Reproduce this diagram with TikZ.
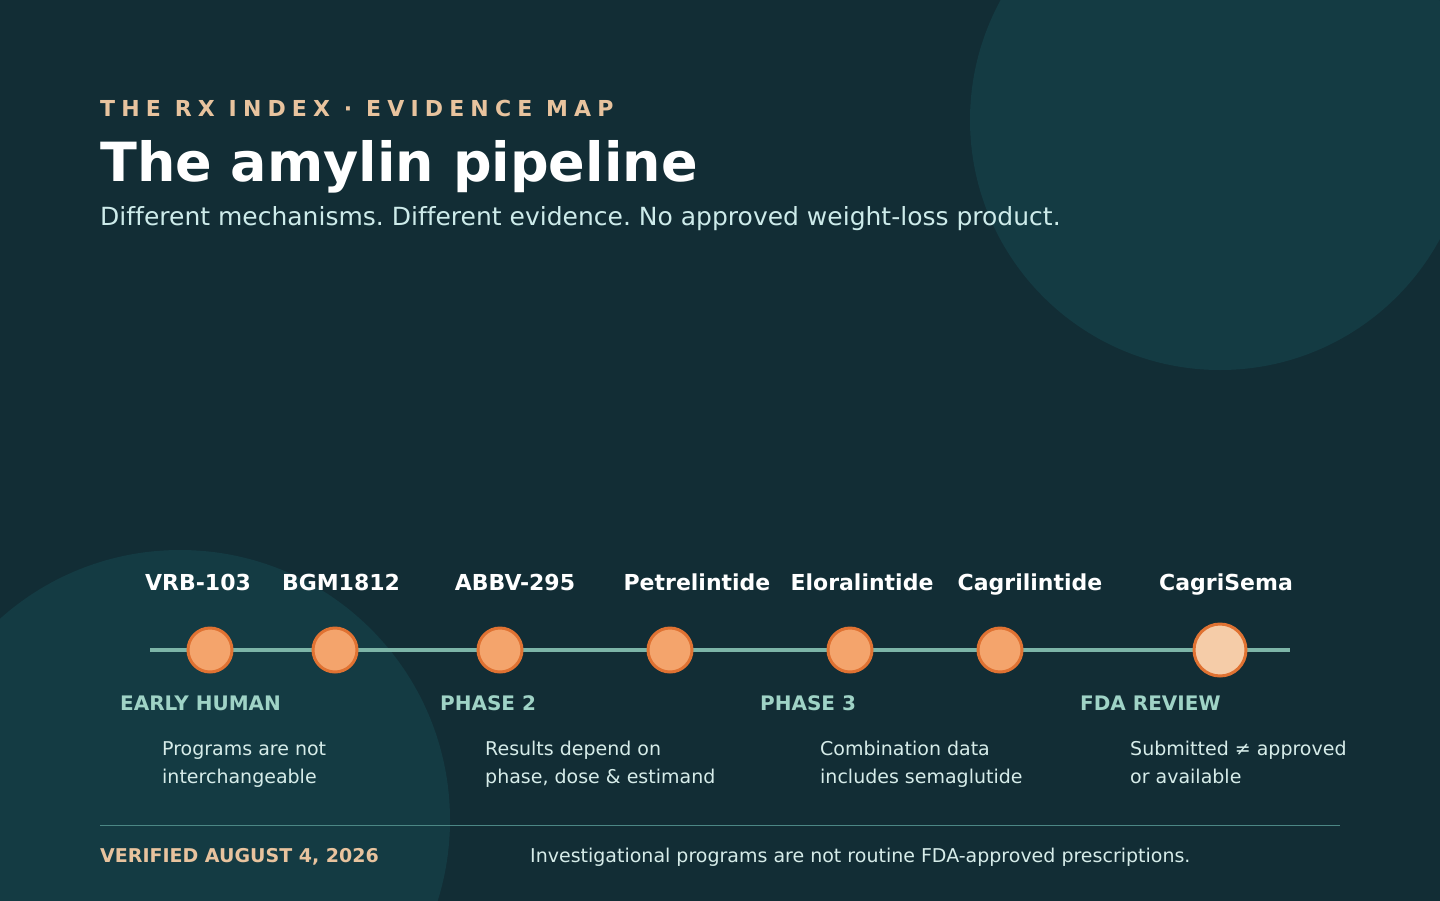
\documentclass[tikz,border=0pt]{standalone}
\usepackage{fontspec}
\setmainfont[Ligatures=NoCommon]{DejaVu Sans}
\newfontfamily\spacedfont[LetterSpace=28]{DejaVu Sans}
\frenchspacing
\definecolor{bg}{HTML}{122D35}
\definecolor{blob}{HTML}{143B43}
\definecolor{peach}{HTML}{E8C39E}
\definecolor{subt}{HTML}{CDEBEA}
\definecolor{tline}{HTML}{7DB5A8}
\definecolor{dotfill}{HTML}{F4A46C}
\definecolor{dotedge}{HTML}{E07232}
\definecolor{dotlight}{HTML}{F5CCA8}
\definecolor{stage}{HTML}{9FD3C6}
\definecolor{desc}{HTML}{D6ECE9}
\definecolor{divider}{HTML}{4C8785}
\tikzset{
  txt/.style={inner sep=0pt, anchor=base west},
  drug/.style={inner sep=0pt, anchor=base, text=white, font=\fontsize{22}{26}\selectfont\bfseries},
  stagelbl/.style={txt, text=stage, font=\fontsize{20}{24}\selectfont\bfseries},
  desctxt/.style={txt, text=desc, font=\fontsize{19}{28}\selectfont, align=left},
  dot/.style={circle, draw=dotedge, fill=dotfill, line width=3pt, minimum size=44pt, inner sep=0pt},
  bigdot/.style={dot, fill=dotlight, minimum size=52pt},
  tl/.style={draw=tline, line width=4pt},
}
\begin{document}
\begin{tikzpicture}[x=1pt,y=-1pt]
\useasboundingbox (0,0) rectangle (1440,900);
\begin{scope}
\clip (0,0) rectangle (1440,900);
\fill[bg] (-2,-2) rectangle (1442,902);
\fill[blob] (1220,120) circle (250);
\fill[blob] (180,820) circle (270);
\end{scope}

% header
\node[txt, text=peach, font=\spacedfont\fontsize{22}{26}\selectfont\bfseries] (kicker) at (100,116) {THE RX INDEX · EVIDENCE MAP};
\node[txt, text=white, font=\fontsize{54}{62}\selectfont\bfseries] (title) at (100,181) {The amylin pipeline};
\node[txt, text=subt, font=\fontsize{25}{30}\selectfont] (subtitle) at (100,225) {Different mechanisms. Different evidence. No approved weight-loss product.};

% timeline
\coordinate (tls) at (150,650);
\coordinate (tle) at (1290,650);
\draw[tl] (tls) -- (tle);
\node[dot] (d1) at (210,650) {};
\node[dot] (d2) at (335,650) {};
\node[dot] (d3) at (500,650) {};
\node[dot] (d4) at (670,650) {};
\node[dot] (d5) at (850,650) {};
\node[dot] (d6) at (1000,650) {};
\node[bigdot] (d7) at (1220,650) {};

% drug labels
\node[drug] (l1) at (198,590) {VRB-103};
\node[drug] (l2) at (341,590) {BGM1812};
\node[drug] (l3) at (515,590) {ABBV-295};
\node[drug] (l4) at (697,590) {Petrelintide};
\node[drug] (l5) at (862,590) {Eloralintide};
\node[drug] (l6) at (1030,590) {Cagrilintide};
\node[drug] (l7) at (1226,590) {CagriSema};

% stages
\node[stagelbl] (s1) at (120,710) {EARLY HUMAN};
\node[stagelbl] (s2) at (440,710) {PHASE 2};
\node[stagelbl] (s3) at (760,710) {PHASE 3};
\node[stagelbl] (s4) at (1080,710) {FDA REVIEW};

\node[desctxt, anchor=north west] (t1) at (162,741) {Programs are not\\interchangeable};
\node[desctxt, anchor=north west] (t2) at (485,741) {Results depend on\\phase, dose \& estimand};
\node[desctxt, anchor=north west] (t3) at (820,741) {Combination data\\includes semaglutide};
\node[desctxt, anchor=north west] (t4) at (1130,741) {Submitted ≠ approved\\or available};

% footer
\coordinate (dvl) at (100,825);
\coordinate (dvr) at (1340,825);
\draw[divider, line width=1pt] (dvl) -- (dvr);
\node[txt, text=peach, font=\fontsize{19}{23}\selectfont\bfseries] (verified) at (100,862) {VERIFIED AUGUST 4, 2026};
\node[txt, text=desc, font=\fontsize{19}{23}\selectfont] (note) at (530,862) {Investigational programs are not routine FDA-approved prescriptions.};
\end{tikzpicture}
\end{document}
